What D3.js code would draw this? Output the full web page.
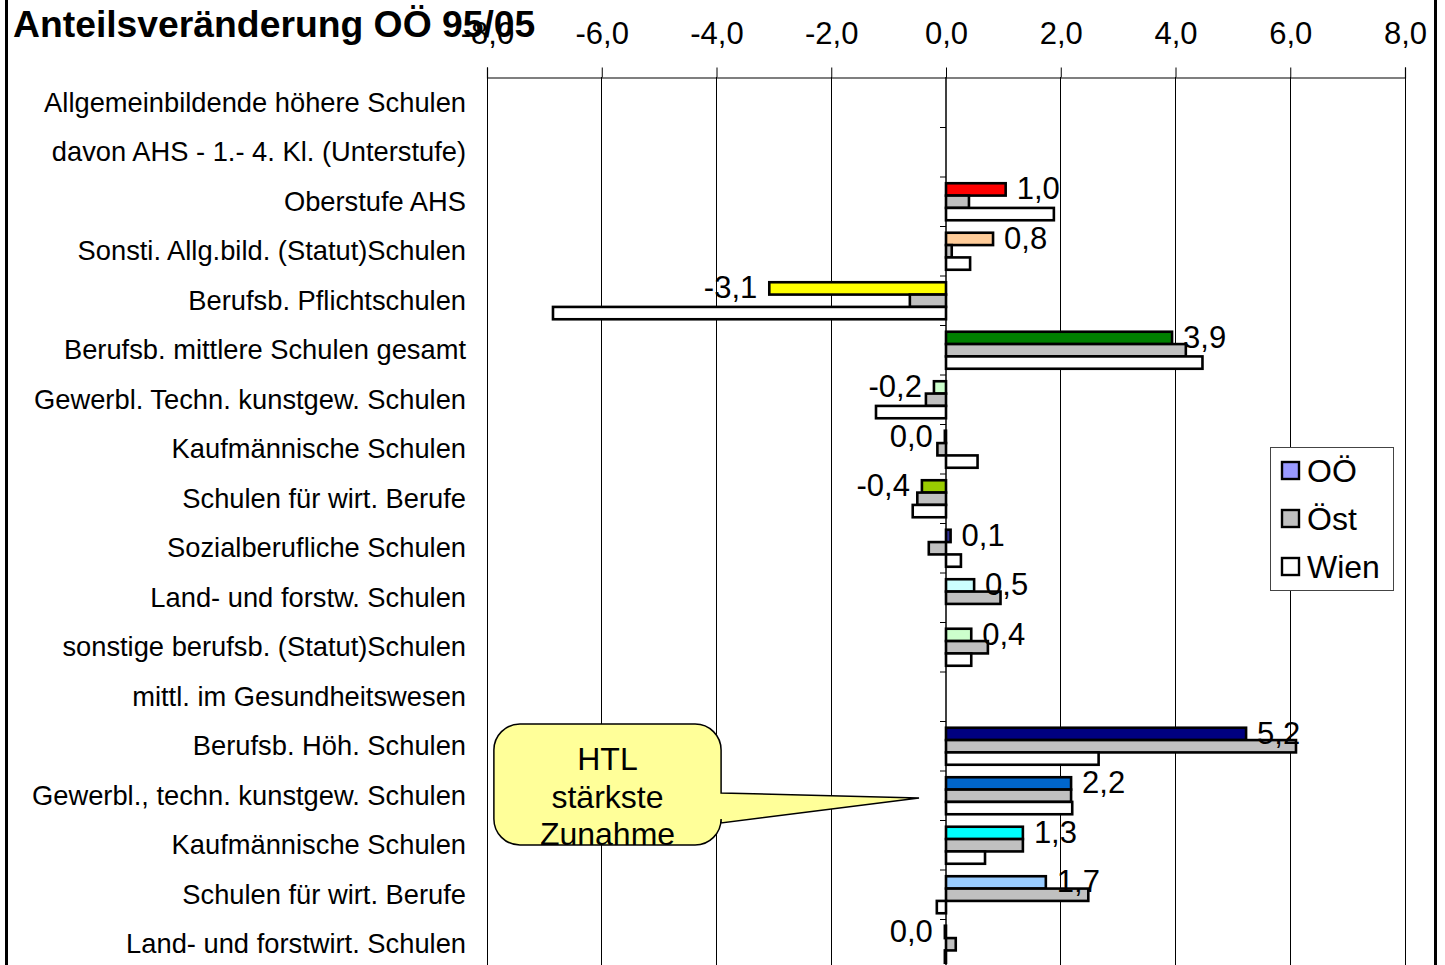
<!DOCTYPE html>
<html><head><meta charset="utf-8">
<script src="https://cdn.jsdelivr.net/npm/d3@7"></script>
<style>
html,body{margin:0;padding:0;background:#fff;}
svg text{font-family:"Liberation Sans",Arial,sans-serif;fill:#000;}
</style></head>
<body>
<svg id="chart" width="1445" height="965"></svg>
<script>
// ---- data ----
const categories = [
  "Allgemeinbildende höhere Schulen",
  "davon AHS - 1.- 4. Kl. (Unterstufe)",
  "Oberstufe AHS",
  "Sonsti. Allg.bild. (Statut)Schulen",
  "Berufsb. Pflichtschulen",
  "Berufsb. mittlere Schulen gesamt",
  "Gewerbl. Techn. kunstgew. Schulen",
  "Kaufmännische Schulen",
  "Schulen für wirt. Berufe",
  "Sozialberufliche Schulen",
  "Land- und forstw. Schulen",
  "sonstige berufsb. (Statut)Schulen",
  "mittl. im Gesundheitswesen",
  "Berufsb. Höh. Schulen",
  "Gewerbl., techn. kunstgew. Schulen",
  "Kaufmännische Schulen",
  "Schulen für wirt. Berufe",
  "Land- und forstwirt. Schulen"
];
const seriesNames = ["OÖ", "Öst", "Wien"];
const valuesOOe  = [null, null, 1.04, 0.82, -3.08, 3.94, -0.21, -0.02, -0.42, 0.08, 0.49, 0.44, null, 5.23, 2.18, 1.34, 1.74, -0.02];
const valuesOest = [null, null, 0.40, 0.10, -0.63, 4.18, -0.35, -0.15, -0.50, -0.30, 0.95, 0.73, null, 6.10, 2.18, 1.34, 2.48, 0.17];
const valuesWien = [null, null, 1.88, 0.42, -6.85, 4.47, -1.22, 0.55, -0.58, 0.26, 0.00, 0.44, null, 2.66, 2.20, 0.68, -0.16, -0.02];
const xTicks = [-8, -6, -4, -2, 0, 2, 4, 6, 8];
const title = "Anteilsveränderung OÖ 95/05";
const calloutLines = ["HTL", "stärkste", "Zunahme"];

// ---- styles ----
const oeColors = ["#9999FF","#9999FF","#FF0000","#FFCC99","#FFFF00","#008000","#CCFFCC","#9999FF","#99CC00","#333399","#CCFFFF","#CCFFCC","#9999FF","#000080","#0066CC","#00FFFF","#99CCFF","#9999FF"];
const legendColors = ["#9999FF", "#C0C0C0", "#FFFFFF"];

const svg = d3.select("#chart");
const W = 1445, H = 965;

const x = d3.scaleLinear().domain([-8, 8]).range([487, 1405]);
const y = d3.scaleBand().domain(d3.range(categories.length)).range([78, 78 + 18 * 49.5]).padding(0);
const step = y.step();
const ys = d3.scaleBand().domain(seriesNames).range([step * 0.126, step * 0.874]).padding(0);

const fmt = v => { const r = Math.round(v * 10) / 10; return (r === 0 ? 0 : r).toFixed(1).replace(".", ","); };

// gridlines
svg.append("g").selectAll("line").data(xTicks.filter(t => t !== 0)).join("line")
  .attr("x1", d => x(d)).attr("x2", d => x(d))
  .attr("y1", 77).attr("y2", H)
  .attr("stroke", "#000").attr("stroke-width", 1).attr("shape-rendering", "crispEdges");

// top axis
const xAxis = d3.axisTop(x).tickValues(xTicks).tickSize(10).tickPadding(24).tickFormat(d => fmt(d));
const gx = svg.append("g").attr("transform", "translate(0,77.5)").call(xAxis);
gx.select(".domain").attr("stroke", "#000").attr("stroke-width", 1.2);
gx.selectAll(".tick line").attr("stroke", "#000");
gx.selectAll("text").style("font-size", "31px").attr("fill", "#000");

// bars
const series = [valuesOOe, valuesOest, valuesWien];
const barData = [];
categories.forEach((c, i) => {
  series.forEach((arr, s) => {
    const v = arr[i];
    if (v === null) return;
    barData.push({ i, s, v, name: seriesNames[s] });
  });
});
svg.append("g").selectAll("rect").data(barData).join("rect")
  .attr("x", d => x(Math.min(0, d.v)))
  .attr("width", d => Math.abs(x(d.v) - x(0)))
  .attr("y", d => y(d.i) + ys(d.name))
  .attr("height", ys.bandwidth())
  .attr("fill", d => d.s === 0 ? oeColors[d.i] : legendColors[d.s])
  .attr("stroke", "#000").attr("stroke-width", 2.6);

// zero axis
const gy = svg.append("g").attr("transform", `translate(${x(0)},0)`);
gy.append("line").attr("x1", 0).attr("x2", 0).attr("y1", 77).attr("y2", H).attr("stroke", "#000").attr("stroke-width", 1.5);
gy.selectAll("line.tk").data(d3.range(1, categories.length)).join("line").attr("class", "tk")
  .attr("x1", -6).attr("x2", 0).attr("y1", d => y(d)).attr("y2", d => y(d)).attr("stroke", "#000");

// category labels
svg.append("g").selectAll("text").data(categories).join("text")
  .attr("x", 466).attr("y", (d, i) => y(i) + step / 2 - 0.5)
  .attr("dy", "0.35em").attr("text-anchor", "end")
  .style("font-size", "27.3px").text(d => d);

// value labels (OÖ)
svg.append("g").selectAll("text").data(barData.filter(d => d.s === 0)).join("text")
  .attr("x", d => d.v >= 0 ? x(d.v) + 11 : x(d.v) - 12)
  .attr("y", d => y(d.i) + ys(d.name) + ys.bandwidth() / 2 - 1)
  .attr("dy", "0.35em")
  .attr("text-anchor", d => d.v >= 0 ? "start" : "end")
  .style("font-size", "31px").text(d => fmt(d.v));

// title
svg.append("text").attr("x", 13).attr("y", 37).style("font-size", "37.3px").style("font-weight", "bold").text(title);

// legend
const lg = svg.append("g");
lg.append("rect").attr("x", 1270.5).attr("y", 447.5).attr("width", 123).attr("height", 143)
  .attr("fill", "#fff").attr("stroke", "#444").attr("stroke-width", 1);
seriesNames.forEach((n, k) => {
  const cy = 471 + k * 48;
  lg.append("rect").attr("x", 1282).attr("y", cy - 9).attr("width", 17).attr("height", 17)
    .attr("fill", legendColors[k]).attr("stroke", "#000").attr("stroke-width", 2.4);
  lg.append("text").attr("x", 1307).attr("y", cy).attr("dy", "0.35em").style("font-size", "32px").text(n);
});

// callout
const bx0 = x(-7.88), bx1 = x(-3.92), by0 = y(13) + 2.5, by1 = y(15) + 24.5, r = 26;
const tipX = x(-0.47), tipY = y(14) + 27;
const pTop = y(14) + 22, pBot = y(14) + 52;
const path = `M${bx0 + r},${by0} H${bx1 - r} A${r},${r} 0 0 1 ${bx1},${by0 + r} V${pTop} L${tipX},${tipY} L${bx1},${pBot} V${by1 - r} A${r},${r} 0 0 1 ${bx1 - r},${by1} H${bx0 + r} A${r},${r} 0 0 1 ${bx0},${by1 - r} V${by0 + r} A${r},${r} 0 0 1 ${bx0 + r},${by0} Z`;
svg.append("path").attr("d", path).attr("fill", "#FFFF99").attr("stroke", "#000").attr("stroke-width", 1.5);
calloutLines.forEach((t, k) => {
  svg.append("text").attr("x", (bx0 + bx1) / 2).attr("y", 759 + k * 37.5).attr("dy", "0.35em")
    .attr("text-anchor", "middle").style("font-size", "32px").text(t);
});

// outer frame lines
svg.append("line").attr("x1", 6.5).attr("x2", 6.5).attr("y1", 0).attr("y2", H).attr("stroke", "#000").attr("stroke-width", 3);
svg.append("line").attr("x1", 1435.5).attr("x2", 1435.5).attr("y1", 0).attr("y2", H).attr("stroke", "#000").attr("stroke-width", 3);
</script>
</body></html>
